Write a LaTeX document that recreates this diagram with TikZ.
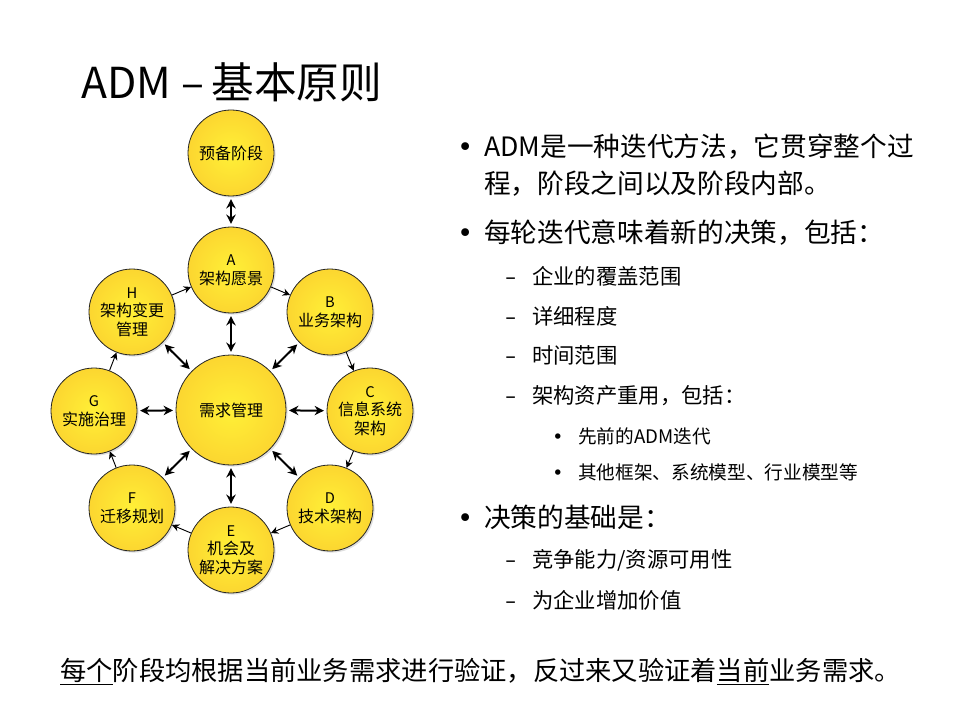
\documentclass[tikz,border=0pt]{standalone}
\usepackage{fontspec}
\setmainfont{Noto Sans CJK SC}
\newfontfamily\symfont{DejaVu Sans}
\usetikzlibrary{arrows.meta}
\usetikzlibrary{shadows}
\definecolor{phasein}{RGB}{255,240,55}
\definecolor{phaseout}{RGB}{252,214,48}
\newcommand{\phl}[1]{{\fontsize{11}{14}\selectfont #1}}
\newcommand{\itm}[2]{\makebox[#1][l]{\symfont #2}}

\begin{document}
\begin{tikzpicture}[x=0.75pt,y=-0.75pt,
        phase/.style={circle, draw=black!85, line width=0.6pt, shading=radial,
            inner color=phasein, outer color=phaseout, minimum size=64.5pt,
            inner sep=0pt, align=center, font=\fontsize{12}{14}\selectfont,
            drop shadow={opacity=0.25, shadow xshift=1.2pt, shadow yshift=-1.2pt}},
        both/.style={{Stealth[length=7pt,width=7pt]}-{Stealth[length=7pt,width=7pt]},
            line width=1.5pt, shorten <=2pt, shorten >=2pt},
        next/.style={-{Stealth[length=5.5pt,width=5.5pt]}, line width=0.7pt},
        lvla/.style={anchor=west, inner sep=0pt, font=\fontsize{20}{24}\selectfont},
        lvlb/.style={anchor=west, inner sep=0pt, font=\fontsize{16}{19}\selectfont},
        lvlc/.style={anchor=west, inner sep=0pt, font=\fontsize{14}{17}\selectfont}]
        \fill[white] (0,0) rectangle (960,720);
        \useasboundingbox (0,0) rectangle (960,720);

        \node[anchor=west, inner sep=0pt, font=\fontsize{32}{36}\selectfont] (title) at (81,82)
            {ADM\hspace{8pt}–\hspace{5pt}基本原则};

        % phases
        \node[phase] (prep) at (231,153) {预备阶段};
        \node[phase, minimum size=82.5pt] (req) at (231,410) {需求管理};
        \node[phase] (A) at (231,270) {\phl{A}\\架构愿景};
        \node[phase] (B) at (330,312) {\phl{B}\\业务架构};
        \node[phase] (C) at (370,411) {\phl{C}\\信息系统\\架构};
        \node[phase] (D) at (330,508) {\phl{D}\\技术架构};
        \node[phase] (E) at (231,550) {\phl{E}\\机会及\\解决方案};
        \node[phase] (F) at (132,508) {\phl{F}\\迁移规划};
        \node[phase] (G) at (94,411) {\phl{G}\\实施治理};
        \node[phase] (H) at (132,312) {\phl{H}\\架构变更\\管理};

        \draw[both] (prep) -- (A);
        \draw[both] (req) -- (A);
        \draw[both] (req) -- (B);
        \draw[both] (req) -- (C);
        \draw[both] (req) -- (D);
        \draw[both] (req) -- (E);
        \draw[both] (req) -- (F);
        \draw[both] (req) -- (G);
        \draw[both] (req) -- (H);

        \draw[next] (A) -- (B);
        \draw[next] (B) -- (C);
        \draw[next] (C) -- (D);
        \draw[next] (D) -- (E);
        \draw[next] (E) -- (F);
        \draw[next] (F) -- (G);
        \draw[next] (G) -- (H);
        \draw[next] (H) -- (A);

        % right hand list
        \node[lvla] (t1) at (457,147) {\itm{20.25pt}{•}ADM是一种迭代方法，它贯穿整个过};
        \node[lvla] (t1b) at (484,184) {程，阶段之间以及阶段内部。};
        \node[lvla] (t2) at (457,233) {\itm{20.25pt}{•}每轮迭代意味着新的决策，包括：};
        \node[lvlb] (t3) at (505,276) {\itm{20.25pt}{–}企业的覆盖范围};
        \node[lvlb] (t4) at (505,316) {\itm{20.25pt}{–}详细程度};
        \node[lvlb] (t5) at (505,355) {\itm{20.25pt}{–}时间范围};
        \node[lvlb] (t6) at (505,396) {\itm{20.25pt}{–}架构资产重用，包括：};
        \node[lvlc] (t7) at (552,436) {\itm{19.5pt}{•}先前的ADM迭代};
        \node[lvlc] (t8) at (552,472) {\itm{19.5pt}{•}其他框架、系统模型、行业模型等};
        \node[lvla] (t9) at (457,517) {\itm{20.25pt}{•}决策的基础是：};
        \node[lvlb] (t10) at (505,560) {\itm{20.25pt}{–}竞争能力/资源可用性};
        \node[lvlb] (t11) at (505,600) {\itm{20.25pt}{–}为企业增加价值};

        \node[anchor=west, inner sep=0pt, font=\fontsize{19.7}{24}\selectfont] (foot) at (60,672)
            {\underline{每个}阶段均根据当前业务需求进行验证，反过来又验证着\underline{当前}业务需求。};
    \end{tikzpicture}
\end{document}
